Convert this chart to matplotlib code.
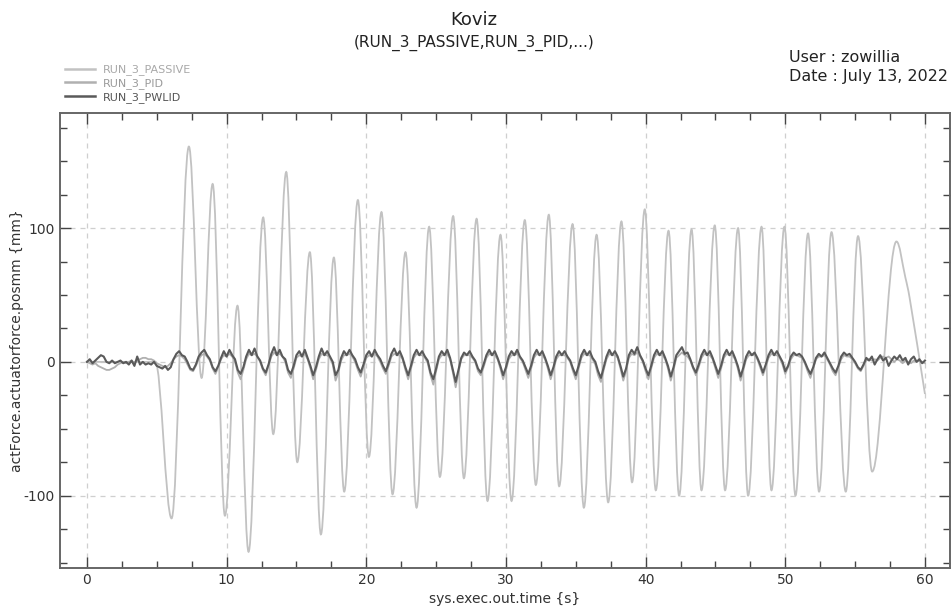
import numpy as np
import matplotlib
matplotlib.use("Agg")
from matplotlib import pyplot as plt
from matplotlib.path import Path
from matplotlib.patches import PathPatch
from matplotlib.lines import Line2D
from matplotlib.ticker import MultipleLocator

plt.rcParams["axes.unicode_minus"] = False

# RUN_3_PASSIVE: turning points (time s, position mm)
t_passive = [0, 4.9, 6.06, 7.30, 8.21, 9.00, 9.88, 10.78, 11.57, 12.62, 13.34,
             14.27, 15.06, 15.96, 16.75, 17.68, 18.42, 19.40, 20.19, 21.09, 21.88,
             22.81, 23.60, 24.50, 25.27, 26.22, 26.99, 27.90, 28.68, 29.61, 30.40,
             31.35, 32.14, 33.07, 33.81, 34.77, 35.58, 36.49, 37.32, 38.27, 39.03,
             39.94, 40.73, 41.64, 42.40, 43.29, 44.00, 44.95, 45.69, 46.62, 47.34,
             48.30, 49.01, 49.94, 50.73, 51.63, 52.42, 53.31, 54.33, 55.21, 56.22,
             57.96, 58.60, 58.90, 60.0]
v_passive = [0, 0, -117, 161, -12, 133, -115, 42, -142, 108, -54,
             142, -75, 82, -129, 78, -97, 121, -71, 112, -99,
             82, -109, 101, -86, 109, -87, 107, -104, 95, -104,
             106, -92, 110, -93, 103, -109, 95, -105, 105, -90,
             114, -96, 98, -100, 99, -96, 102, -96, 100, -100,
             101, -96, 101, -100, 96, -97, 97, -97, 94, -82,
             90, 63, 48, -24]

# RUN_3_PID and RUN_3_PWLID sampled every 0.2 s (one row = one second)
t_ctrl = np.round(np.arange(301) * 0.2, 1)
v_pid = [
    0, -1, -2, -1, -3,  -4, -5, -6, -6, -5,  -4, -2, -1, 0, -1,
    0, 1, -1, 1, 2,  3, 3, 2, 2, 1,  -1, -2, -3, -4, -3,
    -1, 2, 4, 5, 4,  2, -2, -6, -7, -3,  2, 5, 6, 4, 1,
    -5, -9, -4, 2, 5,  4, 6, 4, 0, -8,  -13, -6, 2, 6, 5,
    6, 4, 0, -6, -10,  -3, 4, 7, 5, 6,  4, 0, -8, -12, -5,
    3, 5, 4, 6, 2,  -5, -13, -6, 2, 6,  5, 5, 3, -2, -14,
    -8, 1, 5, 5, 6,  4, 0, -6, -11, -4,  3, 5, 4, 6, 4,
    0, -5, -9, -3, 4,  6, 5, 5, 2, -6,  -13, -5, 3, 6, 5,
    5, 3, -1, -10, -17,  -7, 2, 5, 5, 6,  2, -8, -19, -8, 2,
    5, 5, 5, 3, 0,  -7, -10, -4, 3, 6,  5, 5, 2, -5, -13,
    -6, 2, 5, 5, 6,  3, 0, -6, -12, -5,  3, 6, 5, 5, 2,
    -5, -13, -6, 2, 5,  5, 5, 3, 0, -7,  -13, -5, 3, 6, 5,
    5, 2, -2, -10, -15,  -6, 2, 6, 5, 5,  3, -5, -14, -7, 3,
    6, 5, 7, 4, 0,  -7, -13, -5, 3, 6,  5, 5, 2, -5, -14,
    -6, 3, 5, 7, 5,  4, 1, -5, -10, -4,  3, 6, 5, 5, 2,
    -5, -12, -5, 3, 6,  5, 5, 2, -5, -14,  -6, 2, 5, 5, 5,
    2, -4, -10, -4, 3,  6, 5, 5, 3, -2,  -9, -4, 2, 5, 5,
    4, 3, -1, -7, -12,  -5, 2, 4, 4, 5,  2, -2, -7, -10, -4,
    2, 5, 4, 4, 2,  -1, -5, -7, -3, 1,  2, 1, 2, 1, 3,
    4, 3, 4, 2, 0,  2, 1, -1, 1, 0,  -1, 1, 0, 1, 0,
    -1]
v_pwlid = [
    0, 2, -1, 1, 3,  5, 4, 0, -1, 1,  -1, 0, 1, -1, 0,
    -2, 1, -3, 4, -2,  0, -2, -1, -2, 0,  -3, -4, -5, -3, -6,
    -4, 2, 6, 8, 5,  4, 0, -5, -6, -2,  4, 7, 9, 5, 2,
    -4, -7, -3, 3, 8,  4, 9, 5, 2, -6,  -9, -4, 4, 9, 5,
    10, 4, 1, -5, -8,  -2, 6, 11, 5, 9,  4, 2, -6, -9, -3,
    5, 8, 4, 9, 3,  -3, -10, -4, 4, 10,  5, 8, 4, 0, -10,
    -6, 3, 8, 5, 9,  5, 2, -4, -8, -2,  5, 8, 4, 9, 5,
    2, -3, -7, -1, 6,  10, 5, 8, 3, -4,  -10, -3, 5, 9, 5,
    8, 4, 1, -8, -13,  -5, 4, 8, 5, 9,  3, -6, -15, -6, 3,
    7, 5, 8, 4, 1,  -5, -8, -2, 5, 9,  5, 8, 3, -3, -10,
    -4, 4, 8, 5, 9,  4, 1, -4, -9, -3,  5, 9, 5, 8, 3,
    -3, -10, -4, 4, 8,  5, 8, 4, 1, -5,  -10, -3, 5, 9, 5,
    8, 3, 0, -7, -12,  -4, 4, 9, 5, 8,  4, -3, -11, -5, 5,
    9, 6, 11, 5, 1,  -5, -10, -3, 5, 9,  5, 8, 3, -3, -11,
    -4, 5, 8, 11, 6,  7, 2, -4, -8, -2,  5, 9, 5, 8, 3,
    -3, -9, -3, 5, 9,  5, 8, 3, -3, -11,  -4, 4, 8, 5, 7,
    3, -2, -8, -2, 5,  9, 5, 8, 4, 0,  -7, -3, 4, 7, 5,
    6, 4, 0, -5, -9,  -4, 3, 6, 4, 7,  3, -1, -5, -8, -3,
    4, 7, 5, 6, 3,  0, -4, -6, -2, 3,  1, 4, -2, 2, 5,
    1, 3, -3, 1, 4,  2, 5, 1, 3, -2,  2, 4, 0, 2, -1,
    1]

labels = ["RUN_3_PASSIVE", "RUN_3_PID", "RUN_3_PWLID"]
colors = ["#c2c2c2", "#b0b0b0", "#5a5a5a"]
label_colors = ["#a8a8a8", "#9a9a9a", "#555555"]


def smooth_path(t, v, k=0.36):
    # cubic bezier through the turning points, flat tangent at extrema
    t = np.asarray(t, float)
    v = np.asarray(v, float)
    n = len(t)
    m = np.zeros(n)
    for i in range(n):
        if i == 0 or i == n - 1:
            j0, j1 = max(i - 1, 0), min(i + 1, n - 1)
            m[i] = (v[j1] - v[j0]) / (t[j1] - t[j0])
            continue
        if (v[i] - v[i - 1]) * (v[i + 1] - v[i]) <= 0:
            m[i] = 0.0
        else:
            m[i] = (v[i + 1] - v[i - 1]) / (t[i + 1] - t[i - 1])
    m[0] = 0.0
    verts = [(t[0], v[0])]
    codes = [Path.MOVETO]
    for i in range(n - 1):
        dt = t[i + 1] - t[i]
        c = k * dt
        verts += [(t[i] + c, v[i] + m[i] * c),
                  (t[i + 1] - c, v[i + 1] - m[i + 1] * c),
                  (t[i + 1], v[i + 1])]
        codes += [Path.CURVE4] * 3
    return Path(verts, codes)


fig = plt.figure(figsize=(9.52, 6.08), dpi=100)
ax = fig.add_axes([0.063, 0.066, 0.935, 0.748])

ax.add_patch(PathPatch(smooth_path(t_passive, v_passive), fill=False,
                       edgecolor=colors[0], lw=1.3, zorder=2))
ax.plot(t_ctrl, v_pid, color=colors[1], lw=1.3, zorder=3)
ax.plot(t_ctrl, v_pwlid, color=colors[2], lw=1.5, zorder=4)

ax.set_xlim(-1.93, 61.8)
ax.set_ylim(-154, 186)
ax.xaxis.set_major_locator(MultipleLocator(10))
ax.xaxis.set_minor_locator(MultipleLocator(2.5))
ax.yaxis.set_major_locator(MultipleLocator(100))
ax.yaxis.set_minor_locator(MultipleLocator(25))
ax.tick_params(which="both", direction="in", top=True, right=True,
               colors="#444444", labelcolor="#333333", labelsize=10)
ax.tick_params(which="major", length=8, width=1)
ax.tick_params(which="minor", length=5, width=1)
ax.grid(True, which="major", ls=(0, (4, 4)), color="#cfcfcf", lw=0.9)
ax.set_axisbelow(True)
for sp in ax.spines.values():
    sp.set_color("#666666")
    sp.set_linewidth(1.4)

ax.set_xlabel("sys.exec.out.time {s}", fontsize=10, color="#333333", labelpad=4)
ax.set_ylabel("actForce.actuatorforce.posmm {mm}", fontsize=10, color="#333333",
              labelpad=0)

fig.text(0.498, 0.967, "Koviz", ha="center", va="center", fontsize=13, color="#222222")
fig.text(0.498, 0.930, "(RUN_3_PASSIVE,RUN_3_PID,...)", ha="center", va="center",
         fontsize=11, color="#222222")
fig.text(0.829, 0.905, "User : zowillia", ha="left", va="center", fontsize=11.5,
         color="#222222")
fig.text(0.829, 0.874, "Date : July 13, 2022", ha="left", va="center", fontsize=11.5,
         color="#222222")

handles = [Line2D([], [], color=c, lw=1.8) for c in colors]
fig.legend(handles, labels, loc="upper left", bbox_to_anchor=(0.068, 0.894),
           frameon=False, fontsize=8, labelcolor=label_colors, handlelength=2.7,
           handletextpad=0.7, labelspacing=0.25, borderpad=0, borderaxespad=0)

fig.savefig("out.png", dpi=100)
